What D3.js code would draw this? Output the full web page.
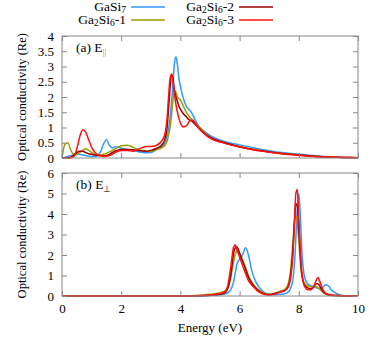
<!DOCTYPE html>
<html>
<head>
<meta charset="utf-8">
<script src="https://cdn.jsdelivr.net/npm/d3@7"></script>
<style>
  body { margin: 0; background: #fff; }
</style>
</head>
<body>
<svg id="chart" width="374" height="341" font-family="Liberation Serif"></svg>
<script>
// energy grid, panel (a) E parallel
const energyPar = [0,0.1,0.2,0.3,0.4,0.5,0.6,0.7,0.8,0.9,1.0,1.1,1.2,1.3,1.4,1.5,1.6,1.7,1.8,2.0,2.2,2.4,2.6,2.8,3.0,3.2,3.4,3.5,3.55,3.6,3.65,3.7,3.75,3.8,3.85,3.9,3.95,4.0,4.1,4.2,4.3,4.4,4.5,4.6,4.8,5.0,5.5,6.0,6.5,7.0,7.5,8.0,8.5,9.0,9.5,10];
const gaSi7Par    = [0,0.02,0.05,0.08,0.1,0.12,0.12,0.1,0.08,0.06,0.05,0.05,0.08,0.2,0.45,0.6,0.42,0.33,0.37,0.32,0.28,0.25,0.2,0.17,0.18,0.28,0.4,0.55,0.7,0.95,1.3,1.8,2.5,3.1,3.32,3.05,2.6,2.35,1.95,1.7,1.58,1.45,1.25,1.08,0.88,0.74,0.54,0.43,0.33,0.24,0.17,0.12,0.08,0.04,0.02,0.01];
const ga2Si6_1Par = [0,0.45,0.5,0.25,0.12,0.12,0.18,0.25,0.3,0.25,0.18,0.12,0.1,0.1,0.12,0.15,0.2,0.25,0.3,0.4,0.42,0.35,0.27,0.23,0.22,0.28,0.35,0.45,0.55,0.75,1.0,1.4,1.9,2.22,2.15,2.0,1.95,1.9,1.7,1.5,1.35,1.25,1.15,1.05,0.85,0.68,0.5,0.38,0.28,0.2,0.15,0.1,0.06,0.03,0.02,0.01];
const ga2Si6_2Par = [0,0,0.01,0.03,0.1,0.18,0.22,0.22,0.18,0.14,0.12,0.1,0.08,0.07,0.07,0.08,0.12,0.18,0.23,0.28,0.28,0.27,0.24,0.22,0.25,0.32,0.45,0.7,1.0,1.6,2.3,2.75,2.6,2.2,2.0,1.85,1.7,1.6,1.45,1.35,1.25,1.2,1.1,1.0,0.82,0.68,0.5,0.37,0.27,0.2,0.14,0.1,0.06,0.03,0.02,0.01];
const ga2Si6_3Par = [0,0,0,0.01,0.05,0.3,0.7,0.93,0.85,0.6,0.35,0.2,0.12,0.08,0.06,0.06,0.08,0.12,0.18,0.25,0.25,0.22,0.3,0.37,0.38,0.42,0.6,0.9,1.3,2.0,2.6,2.75,2.5,2.1,1.75,1.5,1.3,1.15,1.02,1.05,1.2,1.25,1.15,1.0,0.8,0.65,0.48,0.36,0.26,0.19,0.13,0.09,0.05,0.03,0.02,0.01];

// energy grid, panel (b) E perpendicular
const energyPerp = [0,1,2,3,4,4.5,5.0,5.3,5.5,5.6,5.7,5.8,5.85,5.9,6.0,6.1,6.2,6.3,6.4,6.5,6.6,6.8,7.0,7.2,7.4,7.5,7.6,7.7,7.8,7.85,7.9,7.95,8.0,8.05,8.1,8.2,8.3,8.4,8.5,8.6,8.65,8.7,8.8,8.9,9.0,9.1,9.3,9.5,10];
const gaSi7Perp    = [0,0,0,0,0,0.01,0.03,0.05,0.1,0.15,0.3,0.7,1.1,1.5,1.8,2.0,2.35,2.0,1.3,0.85,0.55,0.2,0.08,0.06,0.08,0.1,0.15,0.3,0.8,1.5,2.8,4.3,5.0,4.0,2.3,0.9,0.6,0.5,0.45,0.4,0.38,0.35,0.4,0.55,0.5,0.3,0.1,0.03,0];
const ga2Si6_1Perp = [0,0,0,0,0,0.02,0.08,0.15,0.25,0.4,0.9,1.7,2.0,2.2,2.05,1.75,1.4,1.0,0.7,0.5,0.35,0.15,0.08,0.15,0.25,0.3,0.45,1.0,2.6,3.6,3.9,3.6,2.7,1.7,1.0,0.6,0.5,0.45,0.45,0.45,0.4,0.35,0.2,0.1,0.05,0.03,0.01,0,0];
const ga2Si6_2Perp = [0,0,0,0,0,0.01,0.04,0.08,0.15,0.35,1.0,2.1,2.35,2.4,2.1,1.7,1.3,0.9,0.65,0.45,0.3,0.12,0.06,0.12,0.2,0.25,0.35,0.8,2.2,3.5,4.5,4.4,3.3,2.0,1.1,0.5,0.4,0.35,0.45,0.6,0.6,0.5,0.25,0.12,0.06,0.04,0.02,0.01,0];
const ga2Si6_3Perp = [0,0,0,0,0,0.01,0.05,0.1,0.2,0.5,1.4,2.4,2.5,2.3,1.9,1.5,1.1,0.75,0.55,0.4,0.25,0.1,0.05,0.1,0.2,0.25,0.35,0.7,2.0,3.5,5.0,5.2,3.8,2.3,1.2,0.45,0.3,0.3,0.45,0.8,0.9,0.75,0.35,0.15,0.08,0.05,0.02,0.01,0];

const seriesNames = ["GaSi7", "Ga2Si6-1", "Ga2Si6-2", "Ga2Si6-3"];
const seriesColors = ["#3399ff", "#9c9c00", "#990000", "#ff1010"];
const parTicks = [0,0.5,1,1.5,2,2.5,3,3.5,4];
const perpTicks = [0,1,2,3,4,5,6];
const energyTicks = [0,2,4,6,8,10];

const svg = d3.select("#chart");
const left = 62, right = 358;
const xScale = d3.scaleLinear().domain([0, 10]).range([left, right]);

function drawPanel(top, bottom, yMax, yTicks, energy, series, showX, label, sub) {
    const yScale = d3.scaleLinear().domain([0, yMax]).range([bottom, top]);
    const g = svg.append("g");

    // 곡선
    const line = d3.line()
        .x((d, i) => xScale(energy[i]))
        .y(d => yScale(d))
        .curve(d3.curveMonotoneX);
    g.selectAll("path.curve")
        .data(series)
        .join("path")
        .attr("class", "curve")
        .attr("d", line)
        .style("fill", "none")
        .style("stroke", (d, i) => seriesColors[i])
        .style("stroke-width", 1.5);

    // 축 (inward ticks, mirrored)
    const axes = [
        [d3.axisBottom(xScale).tickValues(energyTicks).tickFormat(showX ? d3.format("d") : ""), `translate(0,${bottom})`],
        [d3.axisTop(xScale).tickValues(energyTicks).tickFormat(""), `translate(0,${top})`],
        [d3.axisLeft(yScale).tickValues(yTicks).tickFormat(d => d), `translate(${left},0)`],
        [d3.axisRight(yScale).tickValues(yTicks).tickFormat(""), `translate(${right},0)`]
    ];
    axes.forEach(([ax, tr]) => {
        const a = g.append("g").attr("transform", tr)
            .call(ax.tickSize(-5).tickSizeOuter(0).tickPadding(8));
        a.attr("font-family", "Liberation Serif").attr("font-size", 13);
        a.select(".domain").remove();
        a.selectAll("line").style("stroke", "#888");
        a.selectAll("text").style("fill", "#000");
    });

    g.append("rect")
        .attr("x", left).attr("y", top)
        .attr("width", right - left).attr("height", bottom - top)
        .style("fill", "none").style("stroke", "#888").style("stroke-width", 1);

    // y 라벨
    g.append("text")
        .attr("transform", `translate(26,${(top + bottom) / 2}) rotate(-90)`)
        .attr("text-anchor", "middle")
        .attr("font-size", 12.5)
        .text("Optical conductivity (Re)");

    // 패널 라벨
    const t = g.append("text")
        .attr("x", 76).attr("y", top + 16)
        .attr("font-size", 13.5)
        .text(label);
    t.append("tspan").text("E");
    t.append("tspan").attr("dy", 3).attr("font-size", 9).style("fill", sub === "||" ? "#888" : "#000").text(sub);
}

drawPanel(36, 158, 4, parTicks, energyPar, [gaSi7Par, ga2Si6_1Par, ga2Si6_2Par, ga2Si6_3Par], false, "(a) ", "||");
drawPanel(173, 296, 6, perpTicks, energyPerp, [gaSi7Perp, ga2Si6_1Perp, ga2Si6_2Perp, ga2Si6_3Perp], true, "(b) ", "\u22a5");

// x 라벨
svg.append("text")
    .attr("x", (left + right) / 2).attr("y", 332)
    .attr("text-anchor", "middle")
    .attr("font-size", 13)
    .text("Energy (eV)");

// 범례
const legendPos = [[126, 11], [126, 24], [234, 11], [234, 24]];
seriesNames.forEach((name, i) => {
    const [x, y] = legendPos[i];
    const txt = svg.append("text")
        .attr("x", x).attr("y", y)
        .attr("text-anchor", "end")
        .attr("font-size", 13.5);
    const m = name.match(/^(Ga)(\d?)(Si)(\d)(.*)$/);
    txt.append("tspan").text(m[1]);
    if (m[2]) {
        txt.append("tspan").attr("dy", 2).attr("font-size", 9.5).text(m[2]);
        txt.append("tspan").attr("dy", -2).text(m[3]);
    } else {
        txt.append("tspan").text(m[3]);
    }
    txt.append("tspan").attr("dy", 2).attr("font-size", 9.5).text(m[4]);
    if (m[5]) txt.append("tspan").attr("dy", -2).text(m[5]);
    svg.append("line")
        .attr("x1", x + 5).attr("x2", x + 39)
        .attr("y1", y - 4).attr("y2", y - 4)
        .style("stroke", seriesColors[i])
        .style("stroke-width", 1.5);
});
</script>
</body>
</html>
